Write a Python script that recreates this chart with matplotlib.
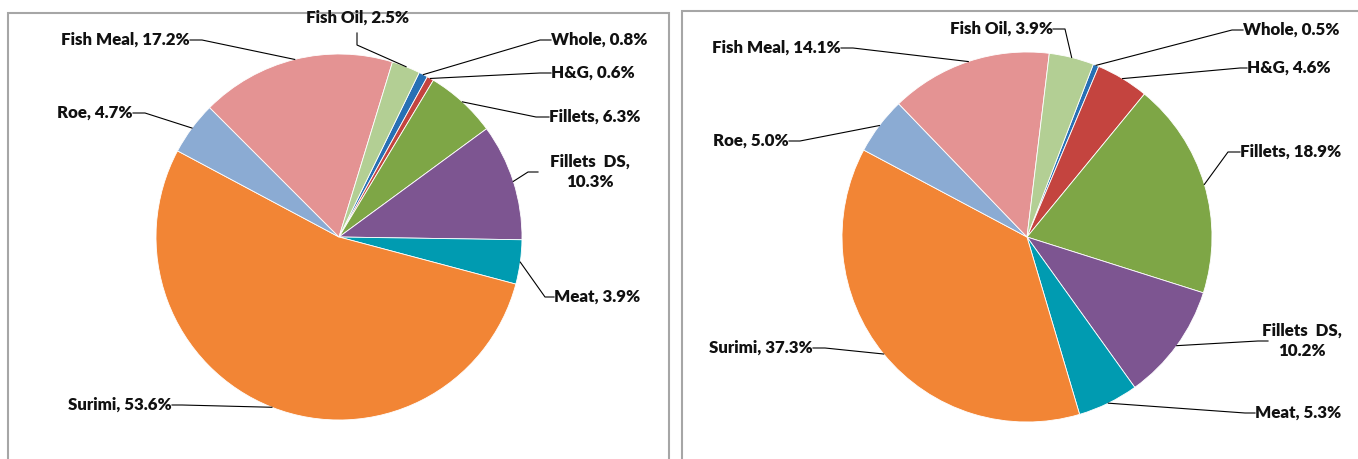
import matplotlib
matplotlib.use("Agg")
import matplotlib.pyplot as plt
from matplotlib.patches import Rectangle
from matplotlib import font_manager
import numpy as np

# ---- data ----
categories = ["Whole", "H&G", "Fillets", "Fillets  DS", "Meat", "Surimi", "Roe", "Fish Meal", "Fish Oil"]
values_left = [0.8, 0.6, 6.3, 10.3, 3.9, 53.6, 4.7, 17.2, 2.5]
values_right = [0.5, 4.6, 18.9, 10.2, 5.3, 37.3, 5.0, 14.1, 3.9]
colors = ["#2770B5", "#C4443F", "#7EA646", "#7D5591", "#009BB1", "#F28535",
          "#8BABD3", "#E49393", "#B3CF94"]

W, H = 1358, 459
fig = plt.figure(figsize=(W / 100, H / 100), dpi=100)
ax = fig.add_axes([0, 0, 1, 1])
ax.set_xlim(0, W)
ax.set_ylim(0, H)
ax.axis("off")

names = {f.name for f in font_manager.fontManager.ttflist}
fam = "Liberation Sans Narrow" if "Liberation Sans Narrow" in names else "Lato"
FONT = dict(family=[fam, "DejaVu Sans"], fontweight="heavy",
            fontsize=13 if fam == "Liberation Sans Narrow" else 12.2, color="#111111")

# panel borders
ax.add_patch(Rectangle((8, -5), 661, H - 13 + 5, fill=False, ec="#A6A6A6", lw=1.5))
ax.add_patch(Rectangle((682, -5), 700, H - 11 + 5, fill=False, ec="#A6A6A6", lw=1.5))

# layout: (center x, center y from top, radius, first-slice angle clockwise from 12 o'clock)
pies = [
    dict(values=values_left, cx=339, cy=237, r=183, start=26,
         labels={
             "Whole": ((551, 40), "left", (540, 40)),
             "H&G": ((551, 73), "left", (540, 73)),
             "Fillets": ((549, 117), "left", (536, 117)),
             "Fillets  DS": ((590, 172), "center", (528, 172)),
             "Meat": ((554, 297), "left", (545, 297)),
             "Surimi": ((172, 405), "right", (182, 405)),
             "Roe": ((133, 113), "right", (145, 113)),
             "Fish Meal": ((190, 40), "right", (202, 40)),
             "Fish Oil": ((358, 18), "center", (357, 33)),
         }),
    dict(values=values_right, cx=1027, cy=237, r=185, start=21,
         labels={
             "Whole": ((1243, 30), "left", (1232, 30)),
             "H&G": ((1247, 68), "left", (1240, 68)),
             "Fillets": ((1240, 152), "left", (1228, 152)),
             "Fillets  DS": ((1302, 341), "center", (1258, 341)),
             "Meat": ((1255, 413), "left", (1245, 413)),
             "Surimi": ((813, 348), "right", (825, 348)),
             "Roe": ((789, 141), "right", (800, 141)),
             "Fish Meal": ((841, 48), "right", (853, 48)),
             "Fish Oil": ((1053, 29), "right", (1065, 29)),
         }),
]

for p in pies:
    vals = np.array(p["values"])
    cx, cy, r = p["cx"], H - p["cy"], p["r"]
    wedges, _ = ax.pie(vals, colors=colors, startangle=90 - p["start"], counterclock=False,
                       center=(cx, cy), radius=r, wedgeprops=dict(linewidth=0.6, edgecolor="white"),
                       normalize=True)
    for name, v, w in zip(categories, vals, wedges):
        mid = np.deg2rad((w.theta1 + w.theta2) / 2)
        ax_, ay_ = cx + r * np.cos(mid), cy + r * np.sin(mid)
        (tx, ty), ha, (bx, by) = p["labels"][name]
        ty_d, by_d = H - ty, H - by
        if name == "Fillets  DS":
            txt = f"{name},\n{v:.1f}%"
            ax.text(tx, ty_d, txt, ha="center", va="center", linespacing=1.3, **FONT)
            ax.plot([bx + 10, bx, ax_], [by_d, by_d, ay_], color="black", lw=0.8)
        elif name == "Fish Oil" and ha == "center":
            ax.text(tx, ty_d, f"{name}, {v:.1f}%", ha="center", va="center", **FONT)
            ax.plot([bx, bx, ax_], [by_d, by_d - 12, ay_], color="black", lw=0.8)
        else:
            ax.text(tx, ty_d, f"{name}, {v:.1f}%", ha=ha, va="center", **FONT)
            ax.plot([tx, bx, ax_], [ty_d, by_d, ay_], color="black", lw=0.8)

ax.set_xlim(0, W)
ax.set_ylim(0, H)
ax.set_aspect("auto")
fig.savefig("out.png", dpi=100)
